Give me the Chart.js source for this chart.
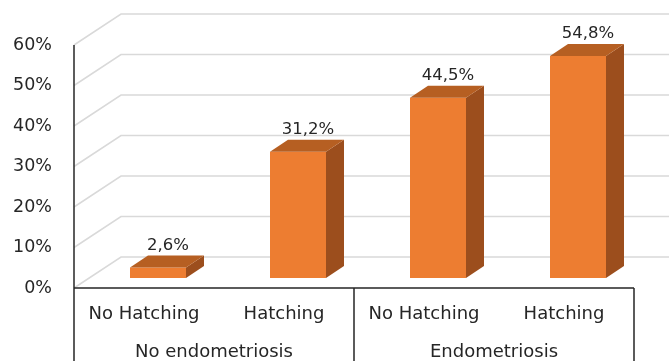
<!DOCTYPE html>
<html>
<head>
<meta charset="utf-8">
<script src="https://cdn.jsdelivr.net/npm/chart.js@4"></script>
<style>
  html, body { margin: 0; padding: 0; background: #fff; }
  #wrap { width: 669px; height: 361px; }
</style>
</head>
<body>
<div id="wrap"><canvas id="chart"></canvas></div>
<script>
// dados do gráfico
const categories = ['No Hatching', 'Hatching', 'No Hatching', 'Hatching'];
const groups = ['No endometriosis', 'Endometriosis'];
const values = [2.6, 31.2, 44.5, 54.8];
const yTicks = [0, 10, 20, 30, 40, 50, 60];

const FONT = 'DejaVu Sans';
const TEXT = '#262626';
const GRID = '#d9d9d9';

// deslocamento da profundidade (efeito 3D)
const FRONT_DX = -14, FRONT_DY = 10;   // plano da frente (eixos)
const BACK_DX = 33, BACK_DY = -21;     // parede do fundo
const BAR_DX = 18, BAR_DY = -12;       // profundidade da barra

const fmt = v => v.toFixed(1).replace('.', ',') + '%';

const walls = {
    id: 'walls',
    beforeDatasetsDraw(chart) {
        const { ctx, chartArea, scales: { y } } = chart;
        const W = chart.width;
        const fx = chartArea.left + FRONT_DX;
        const bx = chartArea.left + BACK_DX;
        ctx.save();
        ctx.strokeStyle = GRID;
        ctx.lineWidth = 1.5;
        yTicks.forEach(t => {
            const py = y.getPixelForValue(t);
            ctx.beginPath();
            ctx.moveTo(fx, py + FRONT_DY);
            ctx.lineTo(bx, py + BACK_DY);
            ctx.lineTo(W, py + BACK_DY);
            ctx.stroke();
        });
        // eixo vertical da frente
        ctx.strokeStyle = '#262626';
        ctx.lineWidth = 1.5;
        ctx.beginPath();
        ctx.moveTo(fx, y.getPixelForValue(yTicks[yTicks.length - 1]) + FRONT_DY);
        ctx.lineTo(fx, y.getPixelForValue(0) + FRONT_DY);
        ctx.stroke();
        // rótulos do eixo Y
        ctx.fillStyle = TEXT;
        ctx.font = '17.5px "' + FONT + '"';
        ctx.textAlign = 'right';
        ctx.textBaseline = 'middle';
        yTicks.forEach(t => {
            ctx.fillText(t + '%', fx - 22, y.getPixelForValue(t) + FRONT_DY);
        });
        ctx.restore();
    },
    afterDatasetsDraw(chart) {
        const { ctx, chartArea, scales: { x, y } } = chart;
        const meta = chart.getDatasetMeta(0);
        ctx.save();
        // faces laterais e de cima das barras
        meta.data.forEach((bar, i) => {
            const { x: cx, y: top, base, width } = bar.getProps(['x', 'y', 'base', 'width'], true);
            const l = cx - width / 2, r = cx + width / 2;
            ctx.fillStyle = '#9c4e1d';
            ctx.beginPath();
            ctx.moveTo(r, top);
            ctx.lineTo(r + BAR_DX, top + BAR_DY);
            ctx.lineTo(r + BAR_DX, base + BAR_DY);
            ctx.lineTo(r, base);
            ctx.closePath();
            ctx.fill();
            ctx.fillStyle = '#b65f22';
            ctx.beginPath();
            ctx.moveTo(l, top);
            ctx.lineTo(l + BAR_DX, top + BAR_DY);
            ctx.lineTo(r + BAR_DX, top + BAR_DY);
            ctx.lineTo(r, top);
            ctx.closePath();
            ctx.fill();
            // rótulo do valor
            ctx.fillStyle = TEXT;
            ctx.font = '16.5px "' + FONT + '"';
            ctx.textAlign = 'center';
            ctx.textBaseline = 'middle';
            ctx.fillText(fmt(values[i]), cx + 10, top - 22);
        });

        // eixo das categorias
        const y0 = y.getPixelForValue(0) + FRONT_DY;
        const left = chartArea.left + FRONT_DX, right = chartArea.right + FRONT_DX;
        const mid = (left + right) / 2;
        ctx.strokeStyle = '#262626';
        ctx.lineWidth = 1.5;
        ctx.beginPath();
        ctx.moveTo(left, y0); ctx.lineTo(right, y0);
        [left, mid, right].forEach(px => { ctx.moveTo(px, y0); ctx.lineTo(px, chart.height); });
        ctx.stroke();

        ctx.fillStyle = TEXT;
        ctx.font = '18px "' + FONT + '"';
        ctx.textAlign = 'center';
        ctx.textBaseline = 'middle';
        categories.forEach((c, i) => {
            ctx.fillText(c, x.getPixelForValue(i) + FRONT_DX, y0 + 26);
        });
        groups.forEach((g, i) => {
            const a = x.getPixelForValue(i * 2) + FRONT_DX;
            const b = x.getPixelForValue(i * 2 + 1) + FRONT_DX;
            ctx.fillText(g, (a + b) / 2, y0 + 64);
        });
        ctx.restore();
    }
};

new Chart(document.getElementById('chart'), {
    type: 'bar',
    data: {
        labels: categories,
        datasets: [{
            data: values,
            backgroundColor: '#ed7d31',
            borderWidth: 0,
            categoryPercentage: 1,
            barPercentage: 0.4
        }]
    },
    options: {
        responsive: true,
        maintainAspectRatio: false,
        animation: false,
        events: [],
        layout: { padding: { top: 35, bottom: 83, left: 88, right: 21 } },
        plugins: { legend: { display: false }, tooltip: { enabled: false } },
        scales: {
            x: { display: false },
            y: { display: false, min: 0, max: 60 }
        }
    },
    plugins: [walls]
});
</script>
</body>
</html>
